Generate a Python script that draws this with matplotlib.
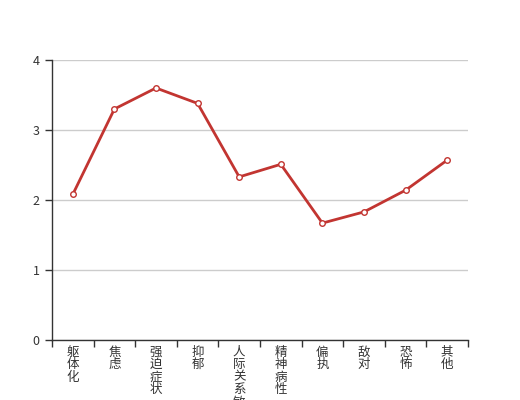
import matplotlib
matplotlib.use("Agg")
import matplotlib.pyplot as plt
from matplotlib.ticker import FixedLocator

plt.rcParams['font.family'] = ['Noto Sans CJK SC', 'DejaVu Sans']

categories = ['躯体化', '焦虑', '强迫症状', '抑郁', '人际关系敏感', '精神病性', '偏执', '敌对', '恐怖', '其他']
values = [2.08, 3.30, 3.60, 3.38, 2.33, 2.51, 1.67, 1.83, 2.14, 2.57]
yticks = [0, 1, 2, 3, 4]

fig = plt.figure(figsize=(5.2, 4.0), dpi=100)
ax = fig.add_axes([0.1, 0.15, 0.8, 0.7])

x = list(range(len(categories)))
ax.plot(x, values, color='#c23531', linewidth=2, marker='o', markersize=4,
        markerfacecolor='white', markeredgecolor='#c23531', markeredgewidth=1, zorder=3)

ax.set_xlim(-0.5, len(categories) - 0.5)
ax.set_ylim(0, 4)
ax.set_yticks(yticks)
ax.set_yticklabels([str(v) for v in yticks])

ax.xaxis.set_major_locator(FixedLocator([i - 0.5 for i in range(len(categories) + 1)]))
ax.set_xticklabels([])
ax.xaxis.set_minor_locator(FixedLocator(x))
ax.set_xticklabels(['\n'.join(c) for c in categories], minor=True)
ax.tick_params(axis='x', which='minor', length=0, pad=4, labelsize=9, colors='#333333')
ax.tick_params(axis='x', which='major', length=5, width=1, color='#333333')
ax.tick_params(axis='y', length=5, width=1, color='#333333', labelsize=9, labelcolor='#333333', pad=4)
for lbl in ax.get_xticklabels(minor=True):
    lbl.set_linespacing(0.95)
    lbl.set_verticalalignment('top')

ax.grid(axis='y', color='#cccccc', linewidth=1)
ax.set_axisbelow(True)
for s in ['top', 'right']:
    ax.spines[s].set_visible(False)
for s in ['left', 'bottom']:
    ax.spines[s].set_color('#333333')
    ax.spines[s].set_linewidth(1)

fig.savefig('out.png', dpi=100)
